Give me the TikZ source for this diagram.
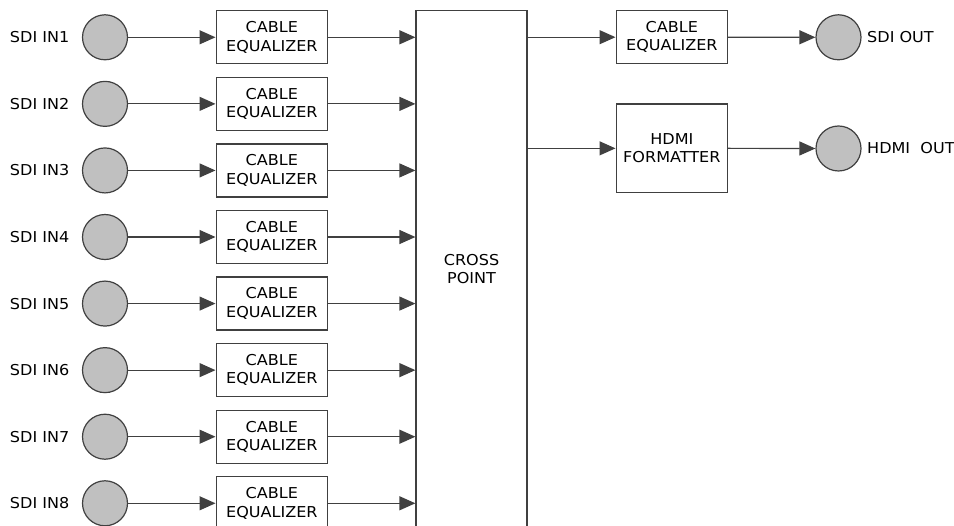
\documentclass[tikz,border=0pt]{standalone}
\usepackage{fontspec}
\setmainfont[FakeStretch=1.07]{DejaVu Sans}
\usetikzlibrary{arrows.meta,calc}
\definecolor{ln}{HTML}{404040}
\definecolor{disc}{HTML}{C0C0C0}
\tikzset{
  blk/.style={draw=ln, line width=1.2pt, fill=white, inner sep=0pt, align=center,
    font=\fontsize{15}{18.4}\selectfont},
  eqbox/.style={blk, minimum width=111.5pt, minimum height=53pt},
  jack/.style={circle, draw=ln, line width=1.2pt, fill=disc, minimum size=45pt, inner sep=0pt},
  lab/.style={inner sep=0pt, font=\fontsize{15}{18.4}\selectfont},
  conn/.style={draw=ln, line width=1.2pt, -{Triangle[length=16pt,width=14pt]}},
}
\begin{document}
\begin{tikzpicture}[x=1pt,y=-1pt]
\useasboundingbox (0,0) rectangle (954,526);
\clip (0,0) rectangle (954,526);
% cross point
\node[blk, minimum width=111pt, minimum height=516.6pt] (xp) at (471.5,269) {CROSS\\POINT};
% inputs
\foreach \i in {1,...,8}{
  \pgfmathsetmacro{\yy}{37.3+66.57*(\i-1)}
  \node[jack] (c\i) at (105,\yy) {};
  \node[lab, anchor=east] (l\i) at (69.5,\yy) {SDI IN\i};
  \node[eqbox] (e\i) at (271.85,\yy) {CABLE\\EQUALIZER};
  \draw[conn] (c\i.east) -- (e\i.west);
  \draw[conn] (e\i.east) -- (e\i.east -| xp.west);
}
% outputs
\node[eqbox] (oe) at (671.85,37.2) {CABLE\\EQUALIZER};
\node[blk, minimum width=111.5pt, minimum height=88.7pt] (hf) at (671.85,148.35) {HDMI\\FORMATTER};
\node[jack] (so) at (838.5,37.3) {};
\node[jack] (ho) at (838.5,148.5) {};
\node[lab, anchor=west] (sol) at (867,37.3) {SDI OUT};
\node[lab, anchor=west] (hol) at (867,148.5) {HDMI\ \ OUT};
\draw[conn] (xp.east |- oe.west) -- (oe.west);
\draw[conn] (xp.east |- hf.west) -- (hf.west);
\draw[conn] (oe.east) -- (so.west);
\draw[conn] (hf.east) -- (ho.west);
\end{tikzpicture}
\end{document}
